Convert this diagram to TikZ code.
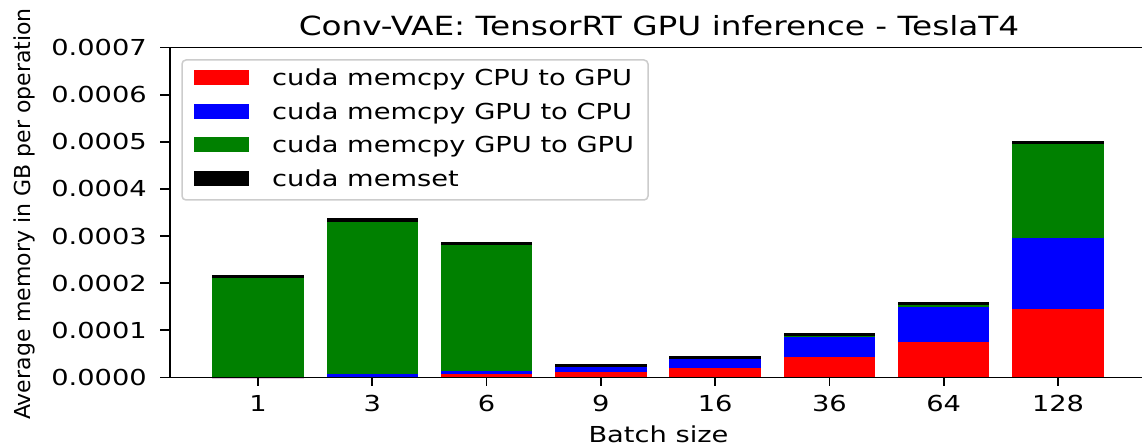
\documentclass[tikz,border=0pt]{standalone}
\usepackage{fontspec}
\setmainfont{DejaVu Sans}[FakeStretch=1.24]
\newfontfamily\ylabelfont{DejaVu Sans}
\definecolor{cred}{HTML}{FF0000}
\definecolor{cblue}{HTML}{0000FF}
\definecolor{cgreen}{HTML}{008000}
\definecolor{frame}{HTML}{CCCCCC}
\begin{document}
\begin{tikzpicture}[x=1pt,y=-1pt,
  spine/.style={line width=1.8pt,line cap=rect},
  tickmark/.style={line width=1.8pt},
  ticklabel/.style={font=\fontsize{22}{26}\selectfont,inner sep=0pt},
  legendframe/.style={draw=frame,fill=white,line width=1.5pt,rounded corners=4pt},
  legendpatch/.style={inner sep=0pt,minimum width=55pt,minimum height=15pt},
  legendtext/.style={font=\fontsize{22}{26}\selectfont,inner sep=0pt,anchor=base west}]
\useasboundingbox (0,0) rectangle (1142,446);

% axis geometry: baseline at y=377.5, 47.14 units per 1e-4 GB, bar spacing 114.29
\def\yzero{377.5}
\def\yunit{47.14}

% stacked bars: index / batch / cumulative tops (red, blue, green, black) in 1e-4 GB
\foreach \i/\lab/\r/\b/\g/\k in {
    0/1/0/0/2.11/2.175,
    1/3/0.02/0.065/3.30/3.385,
    2/6/0.07/0.14/2.805/2.87,
    3/9/0.11/0.215/0.225/0.285,
    4/16/0.195/0.39/0.40/0.46,
    5/36/0.43/0.855/0.875/0.94,
    6/64/0.755/1.505/1.54/1.61,
    7/128/1.445/2.965/4.955/5.025} {
  \pgfmathsetmacro\cx{258+\i*114.29}
  \fill[black] (\cx-45.7,{\yzero-\g*\yunit}) rectangle (\cx+45.7,{\yzero-\k*\yunit});
  \fill[cgreen] (\cx-45.7,{\yzero-\b*\yunit}) rectangle (\cx+45.7,{\yzero-\g*\yunit});
  \fill[cblue] (\cx-45.7,{\yzero-\r*\yunit}) rectangle (\cx+45.7,{\yzero-\b*\yunit});
  \fill[cred] (\cx-45.7,\yzero) rectangle (\cx+45.7,{\yzero-\r*\yunit});
  \draw[tickmark] (\cx,\yzero) -- (\cx,385.5);
  \node[ticklabel,anchor=base] (xtick\i) at (\cx,411) {\lab};
}

% y ticks
\foreach \j in {0,...,7} {
  \draw[tickmark] (160,{\yzero-\j*\yunit}) -- (170,{\yzero-\j*\yunit});
  \node[ticklabel,anchor=east] (ytick\j) at (147,{\yzero-\j*\yunit}) {0.000\j};
}

% spines
\draw[spine] (1142,{\yzero-7*\yunit}) -- (170,{\yzero-7*\yunit}) -- (170,\yzero) -- (1142,\yzero);

% legend
\draw[legendframe] (182,60) rectangle (648,200);
\foreach \n/\col/\txt [count=\c from 0] in {
    red/cred/cuda memcpy CPU to GPU,
    blue/cblue/cuda memcpy GPU to CPU,
    green/cgreen/cuda memcpy GPU to GPU,
    black/black/cuda memset} {
  \pgfmathsetmacro\ry{78+\c*33.4}
  \node[legendpatch,fill=\col] (patch\n) at (221.5,\ry) {};
  \node[legendtext] (entry\n) at (272,\ry+8) {\txt};
}

% titles
\node[inner sep=0pt,anchor=base,font=\fontsize{26.4}{30}\selectfont] (title) at (659,35.5)
  {Conv-VAE: TensorRT GPU inference - TeslaT4};
\node[ticklabel,anchor=base] (xlabel) at (658.5,442) {Batch size};
\node[inner sep=0pt] (ylabel) at (24,214)
  {\rotatebox{90}{\ylabelfont\fontsize{22}{26}\selectfont Average memory in GB per operation}};
\end{tikzpicture}
\end{document}
